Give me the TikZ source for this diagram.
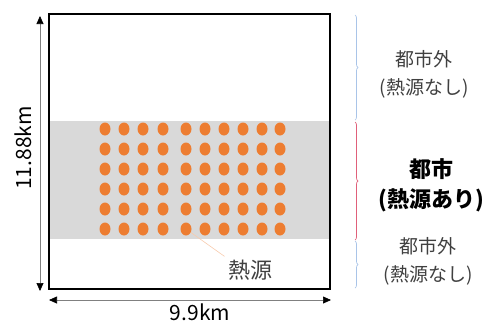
\documentclass[tikz,border=0pt]{standalone}
\usepackage{fontspec}
\setmainfont{Noto Sans CJK JP}
\usetikzlibrary{shapes.geometric, arrows.meta, decorations.pathreplacing}
\definecolor{heatorange}{HTML}{ED7D31}
\definecolor{citygray}{HTML}{D9D9D9}
\definecolor{bracered}{HTML}{E0607A}
\definecolor{braceblue}{HTML}{A9C4E8}
\definecolor{leaderorange}{HTML}{F8CBAD}
\definecolor{textgray}{HTML}{404040}
\tikzstyle{source} = [ellipse, fill=heatorange, minimum width=11pt, minimum height=13pt, inner sep=0pt]
\tikzstyle{zone} = [align=center, text=textgray, font=\fontsize{19}{28}\selectfont]
\tikzstyle{dim} = [line width=0.7pt, gray, {Triangle[length=8pt,width=7pt,black]}-{Triangle[length=8pt,width=7pt,black]}]
\tikzstyle{brace} = [decorate, decoration={brace, amplitude=3pt}, line width=0.7pt]
\begin{document}
\begin{tikzpicture}[x=1pt, y=-1pt]

    \useasboundingbox (0,0) rectangle (494,322);

    \node (city) [fill=citygray, minimum width=281pt, minimum height=118pt, inner sep=0pt] at (189.5,180) {};
    \node (map) [draw=black, line width=1.2pt, minimum width=281pt, minimum height=275pt, inner sep=0pt] at (189.5,151.5) {};

    \foreach \x [count=\i] in {105,124,143,163,186,205,224,243,262,280}
      \foreach \y [count=\j] in {129,149,169,189,209,229}
        \node (src-\i-\j) [source] at (\x,\y) {};

    \node (heat) [text=textgray, font=\fontsize{22}{22}\selectfont] at (250,270) {熱源};
    \draw [leaderorange, line width=0.6pt] (src-5-6) -- (heat.north west);

    \coordinate (ytop) at (40,16);
    \coordinate (ybot) at (40,291);
    \coordinate (xleft) at (49,300);
    \coordinate (xright) at (331,300);
    \draw [dim] (ytop) -- (ybot);
    \draw [dim] (xleft) -- (xright);
    \node (height) [rotate=90, font=\fontsize{21}{21}\selectfont] at (23,148) {11.88km};
    \node (width) [font=\fontsize{21}{21}\selectfont] at (200,312) {9.9km};

    \draw [brace, braceblue] (355,15) -- (355,120);
    \draw [brace, bracered] (355,122) -- (355,240);
    \draw [brace, braceblue] (355,241) -- (355,288);

    \node (outer1) [zone] at (424,74) {都市外\\(熱源なし)};
    \node (urban) [zone, text=black, font=\fontsize{22}{30}\selectfont\bfseries] at (431,185) {都市\\(熱源あり)};
    \node (outer2) [zone] at (428,261) {都市外\\(熱源なし)};

\end{tikzpicture}
\end{document}
